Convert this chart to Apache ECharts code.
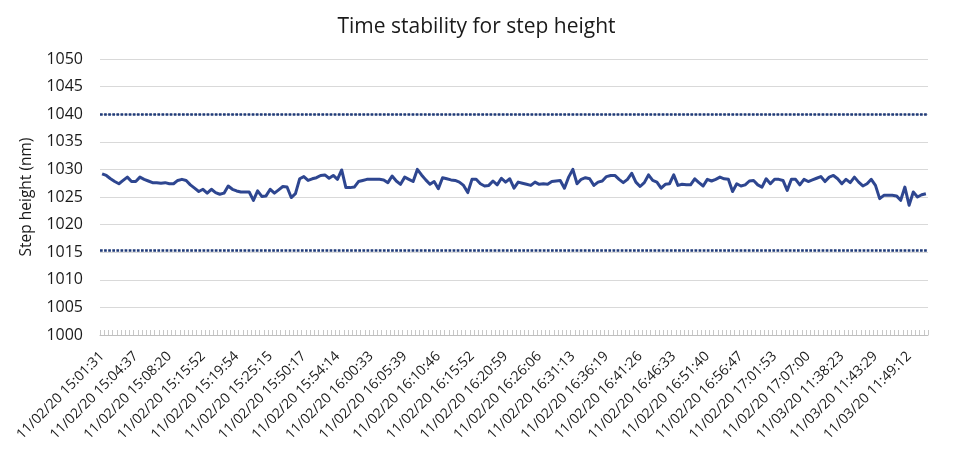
<!DOCTYPE html>
<html>
<head>
<meta charset="utf-8">
<script src="https://cdn.jsdelivr.net/npm/echarts@6/dist/echarts.min.js"></script>
<style>
  html, body { margin: 0; padding: 0; background: #fff; }
  #chart { width: 953px; height: 454px; }
</style>
</head>
<body>
<div id="chart"></div>
<script>
// Tick labels shown on the x axis (every 8th measurement)
const tickLabels = [
  '11/02/20 15:01:31', '11/02/20 15:04:37', '11/02/20 15:08:20', '11/02/20 15:15:52',
  '11/02/20 15:19:54', '11/02/20 15:25:15', '11/02/20 15:50:17', '11/02/20 15:54:14',
  '11/02/20 16:00:33', '11/02/20 16:05:39', '11/02/20 16:10:46', '11/02/20 16:15:52',
  '11/02/20 16:20:59', '11/02/20 16:26:06', '11/02/20 16:31:13', '11/02/20 16:36:19',
  '11/02/20 16:41:26', '11/02/20 16:46:33', '11/02/20 16:51:40', '11/02/20 16:56:47',
  '11/02/20 17:01:53', '11/02/20 17:07:00', '11/03/20 11:38:23', '11/03/20 11:43:29',
  '11/03/20 11:49:12'
];
const labelStep = 8;

// Step height measurements (nm)
const stepHeight = [
  1029.2, 1028.9, 1028.3, 1027.8, 1027.4, 1028.0, 1028.6, 1027.8, 1027.8, 1028.6,
  1028.2, 1027.9, 1027.6, 1027.6, 1027.5, 1027.6, 1027.4, 1027.4, 1028.0, 1028.2,
  1028.0, 1027.2, 1026.6, 1026.0, 1026.4, 1025.7, 1026.4, 1025.8, 1025.5, 1025.7,
  1027.0, 1026.4, 1026.1, 1025.9, 1025.9, 1025.9, 1024.4, 1026.1, 1025.1, 1025.2,
  1026.4, 1025.7, 1026.3, 1026.9, 1026.8, 1024.9, 1025.6, 1028.3, 1028.7, 1028.0,
  1028.3, 1028.5, 1028.9, 1029.0, 1028.4, 1028.9, 1028.2, 1029.9, 1026.7, 1026.7,
  1026.8, 1027.8, 1028.0, 1028.2, 1028.2, 1028.2, 1028.2, 1028.1, 1027.6, 1028.8,
  1027.9, 1027.3, 1028.6, 1028.2, 1027.8, 1030.0, 1029.0, 1028.1, 1027.3, 1027.8,
  1026.5, 1028.5, 1028.3, 1028.1, 1028.0, 1027.7, 1027.1, 1025.8, 1028.2, 1028.2,
  1027.4, 1027.0, 1027.1, 1027.9, 1027.2, 1028.4, 1027.7, 1028.3, 1026.6, 1027.7,
  1027.5, 1027.3, 1027.1, 1027.7, 1027.3, 1027.4, 1027.3, 1027.8, 1027.9, 1028.0,
  1026.6, 1028.6, 1030.0, 1027.4, 1028.2, 1028.5, 1028.3, 1027.1, 1027.7, 1027.9,
  1028.7, 1028.9, 1028.9, 1028.2, 1027.6, 1028.2, 1029.3, 1027.7, 1026.9, 1027.6,
  1029.0, 1028.0, 1027.7, 1026.6, 1027.3, 1027.4, 1029.0, 1027.1, 1027.3, 1027.2,
  1027.2, 1028.3, 1027.6, 1027.0, 1028.2, 1027.9, 1028.2, 1028.6, 1028.3, 1028.2,
  1026.0, 1027.4, 1027.0, 1027.2, 1027.9, 1028.0, 1027.2, 1026.8, 1028.3, 1027.4,
  1028.2, 1028.2, 1028.0, 1026.2, 1028.2, 1028.2, 1027.2, 1028.2, 1027.8, 1028.1,
  1028.4, 1028.7, 1027.8, 1028.6, 1028.9, 1028.3, 1027.4, 1028.2, 1027.6, 1028.6,
  1027.7, 1027.0, 1027.4, 1028.2, 1027.1, 1024.7, 1025.3, 1025.3, 1025.3, 1025.2,
  1024.4, 1026.8, 1023.5, 1025.9, 1025.0, 1025.4, 1025.6
];

// Control limits (nm)
const upperLimit = 1040;
const lowerLimit = 1015.4;

// Y axis range
const yMin = 1000, yMax = 1050, yStep = 5;

const categories = stepHeight.map((v, i) =>
  i % labelStep === 0 && tickLabels[i / labelStep] !== undefined ? tickLabels[i / labelStep] : '');

const FONT = '"Open Sans", "Noto Sans", sans-serif';
const chart = echarts.init(document.getElementById('chart'), null, { renderer: 'canvas' });
chart.setOption({
  animation: false,
  backgroundColor: '#ffffff',
  title: {
    text: 'Time stability for step height',
    left: 'center',
    top: 12,
    textStyle: { fontFamily: FONT, fontSize: 21, fontWeight: 'normal', color: '#1a1a1a' }
  },
  grid: { left: 100, right: 25, top: 59, bottom: 119, containLabel: false },
  xAxis: {
    type: 'category',
    data: categories,
    boundaryGap: true,
    axisLine: { show: true, lineStyle: { color: '#bfbfbf', width: 1 } },
    axisTick: { show: true, interval: 0, inside: true, length: 5, lineStyle: { color: '#c8c8c8', width: 1 } },
    axisLabel: {
      interval: 0,
      rotate: 45,
      margin: 19,
      fontFamily: FONT,
      fontSize: 14,
      color: '#1a1a1a'
    },
    splitLine: { show: false }
  },
  yAxis: {
    type: 'value',
    min: yMin,
    max: yMax,
    interval: yStep,
    name: 'Step height (nm)',
    nameLocation: 'middle',
    nameRotate: 90,
    nameGap: 65,
    nameTextStyle: { fontFamily: FONT, fontSize: 15.5, color: '#1a1a1a' },
    axisLine: { show: false },
    axisTick: { show: false },
    axisLabel: {
      fontFamily: FONT, fontSize: 16, color: '#1a1a1a', margin: 17,
      formatter: (v) => String(v)
    },
    splitLine: { show: true, lineStyle: { color: '#d9d9d9', width: 1 } }
  },
  series: [{
    type: 'line',
    data: stepHeight,
    showSymbol: false,
    symbol: 'none',
    smooth: false,
    lineStyle: { color: '#2e4690', width: 3, join: 'round' },
    itemStyle: { color: '#2e4690' },
    markLine: {
      silent: true,
      symbol: ['none', 'none'],
      label: { show: false },
      lineStyle: { color: '#1f3a78', width: 2.7, type: [2.7, 1.4], cap: 'butt' },
      data: [{ yAxis: upperLimit }, { yAxis: lowerLimit }]
    }
  }]
});
</script>
</body>
</html>
